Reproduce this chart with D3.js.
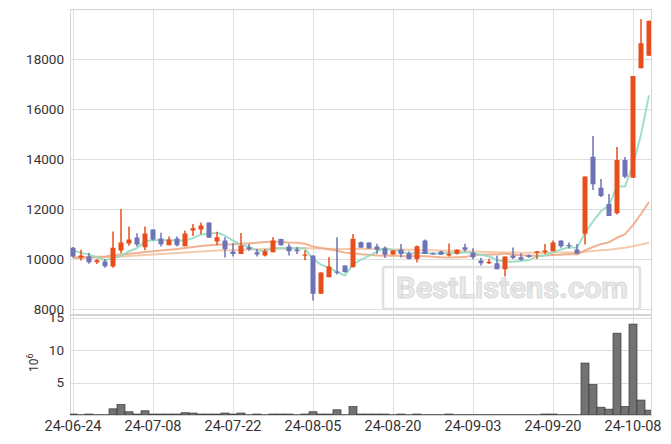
<!DOCTYPE html>
<html><head><meta charset="utf-8">
<script src="https://cdn.jsdelivr.net/npm/d3@7"></script>
<style>body{margin:0;background:#fff}svg{display:block;font-family:Roboto,sans-serif}</style>
</head><body>
<svg id="c" width="671" height="444"></svg>
<script>
const dates = ["24-06-24","24-06-25","24-06-26","24-06-27","24-06-28",
"24-07-01","24-07-02","24-07-03","24-07-04","24-07-05",
"24-07-08","24-07-09","24-07-10","24-07-11","24-07-12",
"24-07-15","24-07-16","24-07-17","24-07-18","24-07-19",
"24-07-22","24-07-23","24-07-24","24-07-25","24-07-26",
"24-07-29","24-07-30","24-07-31","24-08-01","24-08-02",
"24-08-05","24-08-06","24-08-07","24-08-08","24-08-09",
"24-08-12","24-08-13","24-08-14","24-08-16","24-08-19",
"24-08-20","24-08-21","24-08-22","24-08-23","24-08-26",
"24-08-27","24-08-28","24-08-29","24-08-30","24-09-02",
"24-09-03","24-09-04","24-09-05","24-09-06","24-09-09",
"24-09-10","24-09-11","24-09-12","24-09-13","24-09-19",
"24-09-20","24-09-23","24-09-24","24-09-25","24-09-26",
"24-09-27","24-09-30","24-10-02","24-10-04","24-10-07",
"24-10-08","24-10-10","24-10-11"];
const open = [10450,10050,10100,9870,9900,9700,10340,10620,10860,10470,
11180,10820,10550,10820,10510,11140,11180,11460,10700,10740,
10300,10200,10470,10270,10140,10270,10800,10500,10380,10150,
10140,8610,9270,9500,9740,9670,10670,10660,10500,10430,
10180,10380,10230,10000,10740,10230,10300,10140,10210,10470,
10250,9940,9830,9830,9590,10140,10070,10150,10250,10270,
10310,10740,10560,10380,11010,14090,12850,12200,11830,13960,
13250,17630,18130];
const high = [10480,10370,10250,10000,10000,11100,12000,11300,11030,11300,
11180,11050,10900,10900,11140,11400,11460,11460,11080,10870,
10640,11040,10600,10400,10400,10870,10810,10610,10480,10350,
10140,9460,10070,10870,9740,11000,10700,10660,10610,10500,
10340,10600,10300,10540,10780,10260,10330,10620,10380,10610,
10430,10050,10010,10130,10100,10460,10230,10180,10310,10600,
10740,10740,10660,10600,13300,14920,13200,12600,14480,14080,
17320,19600,19530];
const low = [10050,9940,9810,9800,9650,9650,10230,10530,10500,10350,
10740,10500,10550,10500,10510,10920,10990,10850,10550,10060,
10100,10200,10330,10100,10100,10270,10540,10140,10200,9950,
8340,8610,9270,9380,9450,9670,10450,10420,10200,10040,
10180,10060,9980,9860,10200,10180,10170,10100,10180,10300,
9990,9740,9800,9590,9300,10000,9940,10050,10000,10200,
10310,10450,10420,10210,10580,12760,12480,11720,11780,13230,
13250,17630,18130];
const close = [10100,10140,9870,9950,9710,10450,10660,10780,10580,11020,
10780,10590,10780,10550,11020,11230,11340,10850,10870,10390,
10200,10540,10390,10180,10310,10740,10550,10310,10310,10180,
8610,9460,9700,9450,9480,10810,10450,10420,10370,10170,
10340,10200,10000,10510,10200,10210,10170,10210,10380,10370,
10070,9830,9890,9590,10100,10050,9970,10080,10310,10340,
10660,10510,10520,10210,13300,12990,12520,11720,13960,13290,
17320,18630,19530];
const volume = [0.15,0.05,0.15,0.05,0.05,0.95,1.6,0.5,0.15,0.65,
0.15,0.15,0.15,0.15,0.35,0.3,0.15,0.15,0.15,0.3,
0.15,0.3,0.05,0.15,0.05,0.15,0.15,0.15,0.05,0.15,
0.5,0.15,0.15,0.8,0.05,1.3,0.15,0.15,0.15,0.15,
0.05,0.15,0.05,0.15,0.05,0.05,0.05,0.15,0.05,0.05,
0.05,0.05,0.05,0.05,0.05,0.05,0.05,0.05,0.05,0.15,
0.15,0.05,0.05,0.05,8.0,4.7,1.2,0.9,12.6,1.3,
14.0,2.3,0.75];
const ma5 = [10340,10250,10170,10070,9954,10024,10128,10310,10436,10698,
10764,10750,10750,10744,10744,10834,10984,10998,11062,10936,
10730,10570,10478,10340,10324,10432,10434,10418,10444,10418,
9992,9774,9652,9480,9340,9780,9978,10122,10306,10444,
10350,10300,10216,10244,10250,10224,10218,10260,10234,10268,
10240,10172,10108,9950,9896,9892,9920,9958,10102,10150,
10272,10380,10468,10448,11040,11506,11908,12148,12898,12896,
13762,14984,16546];
const ma20 = [10060,10070,10080,10090,10100,10140,10180,10210,10240,10280,
10310,10340,10370,10400,10440,10480,10520,10550,10570,10583,
10588,10608,10634,10646,10676,10690,10685,10661,10648,10606,
10497,10441,10387,10332,10255,10234,10189,10168,10143,10132,
10139,10122,10102,10119,10113,10087,10068,10063,10066,10076,
10149,10167,10177,10184,10215,10177,10153,10136,10133,10141,
10157,10173,10199,10184,10339,10478,10595,10671,10850,10996,
11358,11798,12280];
const maLong = [10030,10040,10050,10060,10070,10080,10100,10120,10140,10160,
10180,10200,10220,10240,10260,10280,10300,10320,10340,10350,
10360,10370,10380,10390,10400,10410,10420,10425,10430,10435,
10420,10415,10410,10405,10400,10400,10400,10400,10395,10390,
10385,10380,10370,10365,10360,10350,10340,10330,10320,10310,
10300,10290,10280,10270,10265,10260,10255,10250,10250,10250,
10255,10260,10265,10265,10290,10320,10350,10370,10410,10450,
10510,10580,10650];
const xTickLabels = ["24-06-24","24-07-08","24-07-22","24-08-05","24-08-20","24-09-03","24-09-20","24-10-08"];
const priceTicks = [8000,10000,12000,14000,16000,18000];
const volTicks = [5,10,15];

const svg = d3.select("#c");
const L = 70, R = 651, PT = 9, PB = 314, VT = 315, VB = 415;
const x = d3.scaleLinear().domain([-0.375, 72.25]).range([L, R]);
const yP = d3.scaleLinear().domain([7800, 20000]).range([PB, PT]);
const yV = d3.scaleLinear().domain([0, 15.4]).range([VB, VT]);
const grid = "#dedede", up = "#e84e1b", down = "#6e72b6";
const idx = d3.range(dates.length);
const tickIdx = xTickLabels.map(t => dates.indexOf(t));

// clip
const defs = svg.append("defs");
defs.append("clipPath").attr("id","cp").append("rect").attr("x",L).attr("y",PT).attr("width",R-L).attr("height",PB-PT);
defs.append("clipPath").attr("id","cv").append("rect").attr("x",L).attr("y",VT).attr("width",R-L).attr("height",VB-VT);

// grids
const g = svg.append("g").attr("stroke", grid).attr("stroke-width",1).attr("shape-rendering","crispEdges");
priceTicks.forEach(v => g.append("line").attr("x1",L).attr("x2",R).attr("y1",Math.round(yP(v))+0.5).attr("y2",Math.round(yP(v))+0.5));
volTicks.forEach(v => g.append("line").attr("x1",L).attr("x2",R).attr("y1",Math.round(yV(v))+0.5).attr("y2",Math.round(yV(v))+0.5));
tickIdx.forEach(i => {
  const xx = Math.round(x(i))+0.5;
  g.append("line").attr("x1",xx).attr("x2",xx).attr("y1",PT).attr("y2",PB);
  g.append("line").attr("x1",xx).attr("x2",xx).attr("y1",VT).attr("y2",VB);
});
// frames
const f = svg.append("g").attr("fill","none").attr("stroke","#d4d4d4").attr("shape-rendering","crispEdges");
f.append("rect").attr("x",L+0.5).attr("y",PT+0.5).attr("width",R-L).attr("height",PB-PT);
f.append("rect").attr("x",L+0.5).attr("y",VT+0.5).attr("width",R-L).attr("height",VB-VT);

// watermark
const wm = svg.append("g");
wm.append("rect").attr("x",383).attr("y",267).attr("width",257).attr("height",42).attr("rx",2)
  .attr("fill","none").attr("stroke","#e0e0e0").attr("stroke-width",2.5);
wm.append("text").attr("x",396).attr("y",298).attr("font-family","Roboto, sans-serif").attr("font-weight",700)
  .attr("font-size",30).attr("textLength",232).attr("lengthAdjust","spacingAndGlyphs")
  .attr("fill","#e9e9e9").attr("stroke","#dadada").attr("stroke-width",1).text("BestListens.com");

// MA lines
const pg = svg.append("g").attr("clip-path","url(#cp)");
const line = arr => d3.line().x((d,i)=>x(i)).y(d=>yP(d))(arr);
pg.append("path").attr("d",line(maLong)).attr("fill","none").attr("stroke","#f3c09c").attr("stroke-width",2).attr("stroke-opacity",0.85);
pg.append("path").attr("d",line(ma20)).attr("fill","none").attr("stroke","#efa47e").attr("stroke-width",2).attr("stroke-opacity",0.85);
pg.append("path").attr("d",line(ma5)).attr("fill","none").attr("stroke","#95dcc2").attr("stroke-width",2).attr("stroke-opacity",0.9);

// candles
const cw = 5;
idx.forEach(i => {
  const c = close[i] >= open[i] ? up : down;
  pg.append("line").attr("x1",x(i)).attr("x2",x(i)).attr("y1",yP(high[i])).attr("y2",yP(low[i]))
    .attr("stroke",c).attr("stroke-width",1.5);
  const t = yP(Math.max(open[i],close[i])), b = yP(Math.min(open[i],close[i]));
  pg.append("rect").attr("x",x(i)-cw/2).attr("y",t).attr("width",cw).attr("height",Math.max(1.2,b-t)).attr("fill",c);
});

// volume
const vg = svg.append("g").attr("clip-path","url(#cv)");
idx.forEach(i => {
  vg.append("rect").attr("x",x(i-0.5)).attr("y",yV(volume[i])).attr("width",x(i+0.5)-x(i-0.5))
    .attr("height",yV(0)-yV(volume[i])).attr("fill","#727272").attr("stroke","#3a3a3a").attr("stroke-width",0.7);
});

// axes labels
const lab = svg.append("g").attr("fill","#333");
priceTicks.forEach(v => lab.append("text").attr("x",64).attr("y",yP(v)).attr("dy","0.36em").attr("text-anchor","end").attr("font-size",13.5).text(v));
volTicks.forEach(v => lab.append("text").attr("x",64).attr("y",yV(v)).attr("dy","0.36em").attr("text-anchor","end").attr("font-size",13.5).text(v));
tickIdx.forEach((i,k) => lab.append("text").attr("x",x(i)).attr("y",431).attr("text-anchor","middle").attr("font-size",14.5).text(xTickLabels[k]));
const ut = lab.append("text").attr("transform","translate(37.5,372) rotate(-90)").attr("font-size",12);
ut.append("tspan").text("10");
ut.append("tspan").attr("dy",-5).attr("font-size",9).text("6");
</script>
</body></html>
